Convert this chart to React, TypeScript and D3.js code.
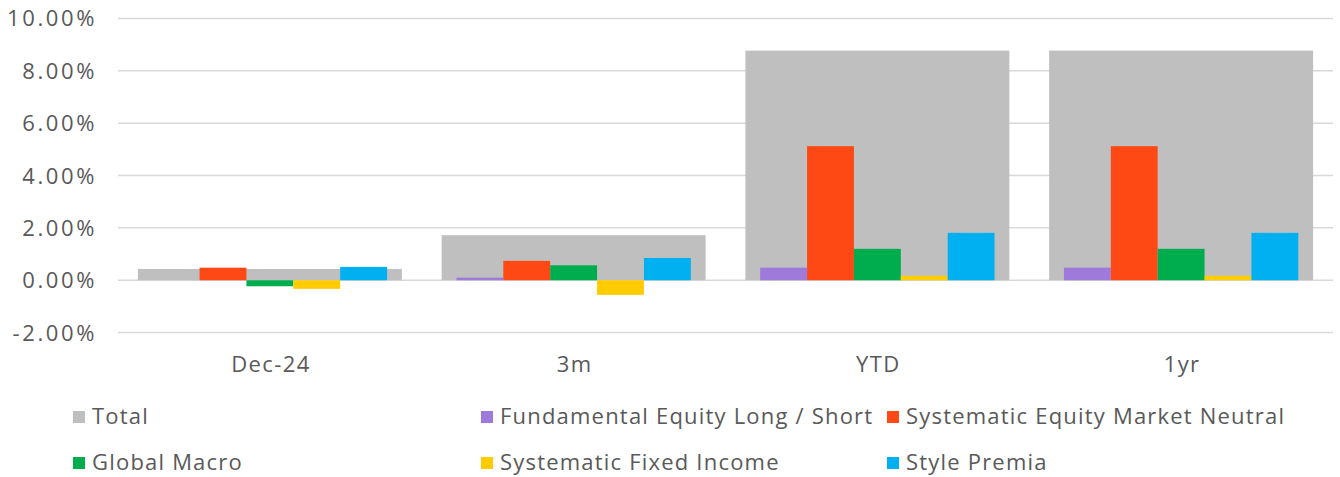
import React from "react";
import * as d3 from "d3";

const categories = ["Dec-24", "3m", "YTD", "1yr"];
const totalValues = [0.43, 1.72, 8.77, 8.77];
const seriesNames = [
  "Fundamental Equity Long / Short",
  "Systematic Equity Market Neutral",
  "Global Macro",
  "Systematic Fixed Income",
  "Style Premia",
];
const fundamentalEquity = [0.0, 0.1, 0.48, 0.48];
const systematicEquity = [0.48, 0.74, 5.12, 5.12];
const globalMacro = [-0.23, 0.57, 1.2, 1.2];
const systematicFixed = [-0.33, -0.56, 0.17, 0.17];
const stylePremia = [0.51, 0.85, 1.81, 1.81];
const seriesValues = [fundamentalEquity, systematicEquity, globalMacro, systematicFixed, stylePremia];
const yTicks = [-2, 0, 2, 4, 6, 8, 10];

const colors = ["#9e7bdb", "#ff4915", "#00ad4e", "#ffcc00", "#00b0f0"];
const totalColor = "#bfbfbf";
const textColor = "#595959";
const font = "'Open Sans', sans-serif";

const legendItems = [
  { name: "Total", color: totalColor, col: 0, row: 0 },
  { name: seriesNames[0], color: colors[0], col: 1, row: 0 },
  { name: seriesNames[1], color: colors[1], col: 2, row: 0 },
  { name: seriesNames[2], color: colors[2], col: 0, row: 1 },
  { name: seriesNames[3], color: colors[3], col: 1, row: 1 },
  { name: seriesNames[4], color: colors[4], col: 2, row: 1 },
];

export default function App() {
  const W = 1340, H = 477;
  const left = 118, right = 1333;
  const y = d3.scaleLinear().domain([-2, 10]).range([332.6, 18.4]);
  const x = d3
    .scaleBand<string>()
    .domain(categories)
    .range([left, right])
    .paddingInner(0.131)
    .paddingOuter(0.0655);
  const step = x.step();
  const x1 = d3
    .scaleBand<string>()
    .domain(seriesNames)
    .range([0, step])
    .paddingInner(0)
    .paddingOuter(0.74);
  const catStart = (c: string) => (x(c) as number) - (step - x.bandwidth()) / 2;
  const legendX = [73, 481, 887];
  const legendY = [424, 470];

  return (
    <svg width={W} height={H} style={{ position: "absolute", left: 0, top: 0, background: "#fff" }} fontFamily={font}>
      {yTicks.map((t) => (
        <g key={t}>
          <line x1={left} x2={right} y1={y(t)} y2={y(t)} stroke="#d9d9d9" strokeWidth={1.5} />
          <text x={97} y={y(t) + 8} textAnchor="end" fontSize={22} letterSpacing={2.6} fill={textColor}>
            {t.toFixed(2) + "%"}
          </text>
        </g>
      ))}
      {categories.map((c, i) => (
        <rect
          key={"t" + c}
          x={x(c)}
          width={x.bandwidth()}
          y={y(Math.max(0, totalValues[i]))}
          height={Math.abs(y(totalValues[i]) - y(0))}
          fill={totalColor}
        />
      ))}
      {categories.map((c, i) =>
        seriesNames.map((s, j) => {
          const v = seriesValues[j][i];
          return (
            <rect
              key={c + s}
              x={catStart(c) + (x1(s) as number)}
              width={x1.bandwidth()}
              y={y(Math.max(0, v))}
              height={Math.abs(y(v) - y(0))}
              fill={colors[j]}
            />
          );
        })
      )}
      {categories.map((c) => (
        <text
          key={"l" + c}
          x={(x(c) as number) + x.bandwidth() / 2 + 1}
          y={372}
          textAnchor="middle"
          fontSize={22}
          letterSpacing={1.4}
          fill={textColor}
        >
          {c}
        </text>
      ))}
      {legendItems.map((it) => (
        <g key={it.name}>
          <rect x={legendX[it.col]} y={legendY[it.row] - 13} width={12} height={12} fill={it.color} />
          <text x={legendX[it.col] + 19} y={legendY[it.row]} fontSize={22} letterSpacing={1.2} fill={textColor}>
            {it.name}
          </text>
        </g>
      ))}
    </svg>
  );
}
